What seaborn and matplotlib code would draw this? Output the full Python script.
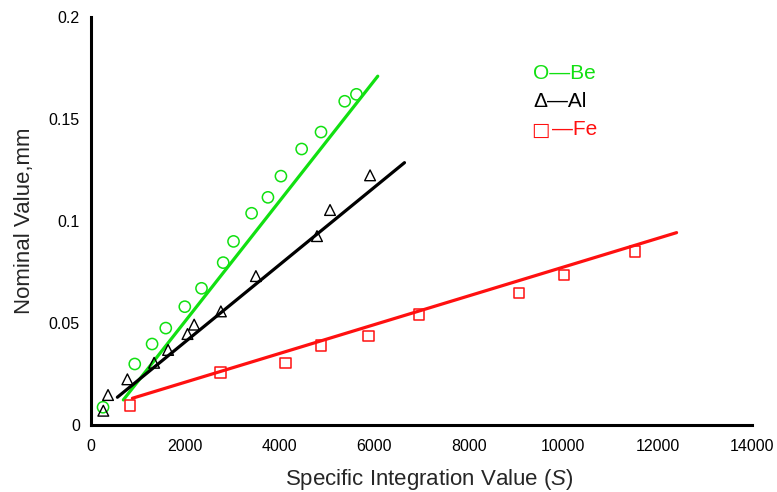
import numpy as np
import pandas as pd
import matplotlib
matplotlib.use("Agg")
import matplotlib.pyplot as plt
import seaborn as sns

be_x = [255, 927, 1294, 1584, 1987, 2341, 2800, 3019, 3402, 3748, 4023, 4462, 4872, 5374, 5622]
be_y = [0.0087, 0.0299, 0.0397, 0.0475, 0.058, 0.067, 0.0796, 0.090, 0.1038, 0.1116, 0.122, 0.1353, 0.1436, 0.1587, 0.1621]

al_x = [261, 361, 771, 1337, 1633, 2044, 2185, 2751, 3493, 4787, 5063, 5911]
al_y = [0.0070, 0.0147, 0.0224, 0.0305, 0.0368, 0.0446, 0.0492, 0.0557, 0.073, 0.0926, 0.1054, 0.1224]

fe_x = [820, 2743, 4122, 4872, 5876, 6943, 9072, 10013, 11519]
fe_y = [0.0096, 0.0258, 0.0304, 0.039, 0.0436, 0.0541, 0.0646, 0.0737, 0.085]

# Fitted lines (end points)
be_fit_x = [685, 6074]
be_fit_y = [0.0123, 0.171]
al_fit_x = [559, 6640]
al_fit_y = [0.0136, 0.1286]
fe_fit_x = [877, 12403]
fe_fit_y = [0.0131, 0.0943]

x_ticks = [0, 2000, 4000, 6000, 8000, 10000, 12000, 14000]
y_ticks = [0, 0.05, 0.1, 0.15, 0.2]

green = "#11e011"
black = "#000000"
red = "#ff1010"

sns.set_style("white")
plt.rcParams['font.family'] = ['Liberation Sans', 'DejaVu Sans']
plt.rcParams['mathtext.fontset'] = 'custom'
plt.rcParams['mathtext.it'] = 'Liberation Sans:italic'
plt.rcParams['mathtext.rm'] = 'Liberation Sans'

fig = plt.figure(figsize=(7.77, 4.92), dpi=100)
ax = fig.add_axes([0.1171, 0.1362, 0.8507, 0.8292])

# fit lines
for fx, fy, c in [(be_fit_x, be_fit_y, green), (al_fit_x, al_fit_y, black), (fe_fit_x, fe_fit_y, red)]:
    sns.lineplot(x=fx, y=fy, color=c, linewidth=2.3, ax=ax)

# points
sns.scatterplot(x=be_x, y=be_y, marker="o", s=65, facecolors="none", edgecolor=green, linewidth=1.1, ax=ax, zorder=3)
sns.scatterplot(x=al_x, y=al_y, marker="^", s=60, facecolors="none", edgecolor=black, linewidth=1.0, ax=ax, zorder=3)
sns.scatterplot(x=fe_x, y=fe_y, marker="s", s=55, facecolors="none", edgecolor=red, linewidth=1.1, ax=ax, zorder=3)

ax.set_xlim(0, 14000)
ax.set_ylim(0, 0.2)
ax.set_xticks(x_ticks)
ax.set_xticklabels([str(t) for t in x_ticks])
ax.set_yticks(y_ticks)
ax.set_yticklabels(["0", "0.05", "0.1", "0.15", "0.2"])
ax.tick_params(axis='both', direction='in', length=4, width=2, labelsize=11.5, colors=black, pad=8)
ax.tick_params(axis='x', pad=10)

sns.despine(ax=ax)
for side in ['left', 'bottom']:
    ax.spines[side].set_linewidth(2.2)
    ax.spines[side].set_color(black)

ax.set_xlabel(r"Specific Integration Value ($\mathit{S}$)", fontsize=16)
ax.xaxis.set_label_coords(0.512, -0.103)
ax.set_ylabel("Nominal Value,mm", fontsize=16, labelpad=10)

# legend drawn as text
x0 = 533 / 777
fig.text(x0, 0.8496, "O—Be", color=green, fontsize=15, va='center')
fig.text(x0, 0.7927, "Δ—Al", color=black, fontsize=15, va='center')
fig.text(x0 - 0.002, 0.7358, "□", color=red, fontsize=14, family=['DejaVu Sans'], va='center')
fig.text(552 / 777, 0.7358, "—Fe", color=red, fontsize=15, va='center')

fig.savefig("out.png", dpi=100)
